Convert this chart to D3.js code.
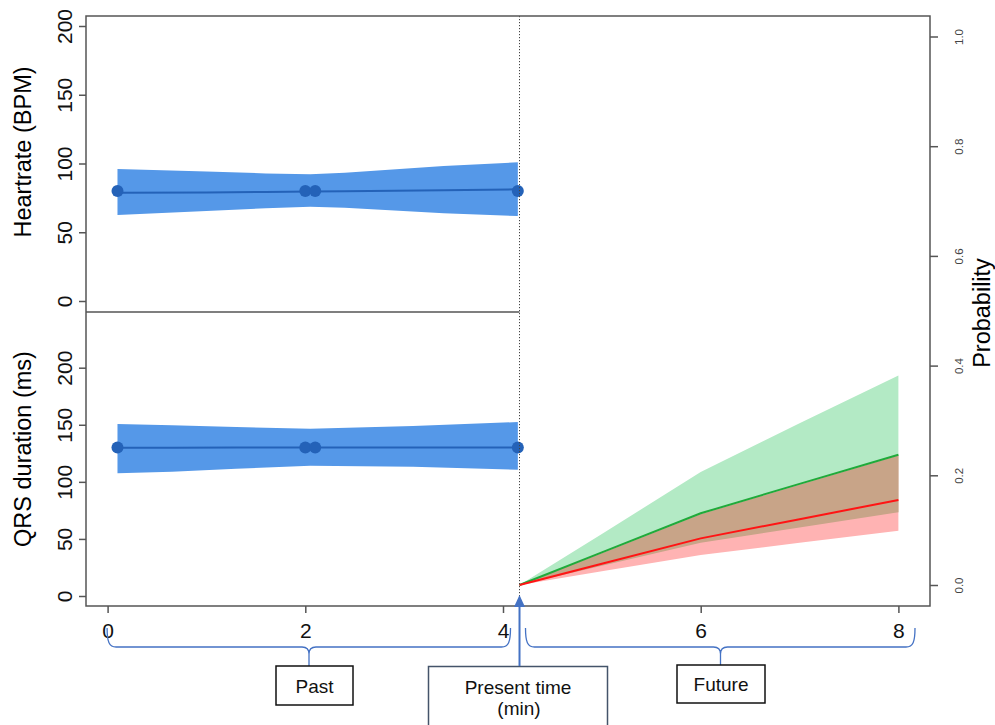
<!DOCTYPE html>
<html>
<head>
<meta charset="utf-8">
<script src="https://cdn.jsdelivr.net/npm/d3@7"></script>
<style>
  html, body { margin: 0; padding: 0; background: #fff; }
  svg { display: block; font-family: "Liberation Sans", Arial, sans-serif; }
</style>
</head>
<body>
<svg id="chart" width="995" height="725"></svg>
<script>
// ---------------- DATA ----------------
const obsTimes = [0.1, 2.0, 2.1, 4.15];
const hrObs = [80, 80, 80, 80];
const qrsObs = [130, 130, 130, 130];

const hrBandX = [0.1, 1.0, 1.6, 2.05, 2.4, 3.4, 4.15];
const hrUpper = [96.0, 94.2, 92.8, 92.1, 93.3, 98.2, 100.9];
const hrLower = [62.5, 65.5, 67.5, 68.6, 67.8, 63.9, 61.8];
const hrMean  = [78.8, 79.0, 79.3, 79.6, 79.8, 80.6, 81.2];

const qrsBandX = [0.1, 0.65, 1.3, 2.05, 3.09, 4.15];
const qrsUpper = [150.7, 149.5, 148.0, 146.5, 148.9, 152.4];
const qrsLower = [107.5, 108.9, 111.5, 114.1, 113.3, 110.6];
const qrsMean  = [129.8, 129.9, 130.0, 130.0, 130.1, 130.2];

const presentTime = 4.167;
const probX      = [4.167, 5, 6, 7, 8];
const greenUpper = [0, 0.093, 0.206, 0.295, 0.382];
const greenMean  = [0, 0.0596, 0.1307, 0.1844, 0.2376];
const greenLower = [0, 0.0352, 0.077, 0.105, 0.1325];
const redUpper   = [0, 0.058, 0.129, 0.183, 0.236];
const redMean    = [0, 0.0386, 0.085, 0.120, 0.155];
const redLower   = [0, 0.025, 0.0547, 0.077, 0.099];

const xTicks = [0, 2, 4, 6, 8];
const hrTicks = [0, 50, 100, 150, 200];
const qrsTicks = [0, 50, 100, 150, 200];
const probTicks = [0, 0.2, 0.4, 0.6, 0.8, 1.0];

const leftTitles = ["Heartrate (BPM)", "QRS duration (ms)"];
const rightTitle = "Probability";
const periodLabels = ["Past", "Future"];
const presentLabel = ["Present time", "(min)"];

// ---------------- LAYOUT ----------------
const svg = d3.select("#chart");
const box = {l: 86, t: 16, r: 930, b: 606, mid: 312};

const x = d3.scaleLinear().domain([0, 8]).range([107.6, 898.4]);
const yHR = d3.scaleLinear().domain([0, 200]).range([301, 26]);
const yQRS = d3.scaleLinear().domain([0, 200]).range([596, 367.7]);
const yP = d3.scaleLinear().domain([0, 1]).range([585, 36.5]);

const blueBand = "#5598e8", blueLine = "#2462b8";

// clip paths
const defs = svg.append("defs");
defs.append("clipPath").attr("id", "clipTop").append("rect")
  .attr("x", box.l).attr("y", box.t).attr("width", box.r - box.l).attr("height", box.mid - box.t);
defs.append("clipPath").attr("id", "clipBot").append("rect")
  .attr("x", box.l).attr("y", box.mid).attr("width", box.r - box.l).attr("height", box.b - box.mid);
defs.append("clipPath").attr("id", "clipAll").append("rect")
  .attr("x", box.l).attr("y", box.t).attr("width", box.r - box.l).attr("height", box.b - box.t);

// ---------- Heart rate panel ----------
const gTop = svg.append("g").attr("clip-path", "url(#clipTop)");
const hrData = hrBandX.map((t, i) => ({t, u: hrUpper[i], l: hrLower[i], m: hrMean[i]}));
gTop.append("path").datum(hrData)
  .attr("d", d3.area().x(d => x(d.t)).y0(d => yHR(d.l)).y1(d => yHR(d.u)))
  .attr("fill", blueBand);
gTop.append("path").datum(hrData)
  .attr("d", d3.line().x(d => x(d.t)).y(d => yHR(d.m)))
  .attr("fill", "none").attr("stroke", blueLine).attr("stroke-width", 2);
gTop.selectAll("circle").data(obsTimes.map((t, i) => ({t, v: hrObs[i]}))).join("circle")
  .attr("cx", d => x(d.t)).attr("cy", d => yHR(d.v)).attr("r", 6).attr("fill", blueLine);

// ---------- QRS panel ----------
const gBot = svg.append("g").attr("clip-path", "url(#clipBot)");
const qrsData = qrsBandX.map((t, i) => ({t, u: qrsUpper[i], l: qrsLower[i], m: qrsMean[i]}));
gBot.append("path").datum(qrsData)
  .attr("d", d3.area().x(d => x(d.t)).y0(d => yQRS(d.l)).y1(d => yQRS(d.u)))
  .attr("fill", blueBand);
gBot.append("path").datum(qrsData)
  .attr("d", d3.line().x(d => x(d.t)).y(d => yQRS(d.m)))
  .attr("fill", "none").attr("stroke", blueLine).attr("stroke-width", 2);
gBot.selectAll("circle").data(obsTimes.map((t, i) => ({t, v: qrsObs[i]}))).join("circle")
  .attr("cx", d => x(d.t)).attr("cy", d => yQRS(d.v)).attr("r", 6).attr("fill", blueLine);

// ---------- Probability forecast ----------
const gP = svg.append("g").attr("clip-path", "url(#clipAll)");
const pData = probX.map((t, i) => ({
  t, gu: greenUpper[i], gm: greenMean[i], gl: greenLower[i],
  ru: redUpper[i], rm: redMean[i], rl: redLower[i]
}));
gP.append("path").datum(pData)
  .attr("d", d3.area().x(d => x(d.t)).y0(d => yP(d.gl)).y1(d => yP(d.gu)))
  .attr("fill", "#b3eac5");
gP.append("path").datum(pData)
  .attr("d", d3.area().x(d => x(d.t)).y0(d => yP(d.rl)).y1(d => yP(d.ru)))
  .attr("fill", "#ffb3b3");
gP.append("path").datum(pData)
  .attr("d", d3.area().x(d => x(d.t))
    .y0(d => yP(Math.max(d.gl, d.rl))).y1(d => yP(Math.min(d.gu, d.ru))))
  .attr("fill", "#c8a488");
gP.append("path").datum(pData)
  .attr("d", d3.line().x(d => x(d.t)).y(d => yP(d.gm)))
  .attr("fill", "none").attr("stroke", "#1faa3a").attr("stroke-width", 2);
gP.append("path").datum(pData)
  .attr("d", d3.line().x(d => x(d.t)).y(d => yP(d.rm)))
  .attr("fill", "none").attr("stroke", "#ff1414").attr("stroke-width", 2);

// ---------- present-time dotted line ----------
svg.append("line")
  .attr("x1", x(presentTime)).attr("x2", x(presentTime))
  .attr("y1", box.t).attr("y2", box.b)
  .attr("stroke", "#444").attr("stroke-width", 1).attr("stroke-dasharray", "1.2,1.8");

// ---------- frame ----------
const frameColor = "#555";
svg.append("path")
  .attr("d", `M${box.l},${box.t} L${box.r},${box.t} L${box.r},${box.b} L${box.l},${box.b} Z`)
  .attr("fill", "none").attr("stroke", frameColor).attr("stroke-width", 1.5);
svg.append("line")
  .attr("x1", box.l).attr("x2", x(presentTime)).attr("y1", box.mid).attr("y2", box.mid)
  .attr("stroke", frameColor).attr("stroke-width", 1.5);

// ---------- axes ----------
function styleAxis(g, color) {
  g.select(".domain").remove();
  g.selectAll(".tick line").attr("stroke", color).attr("stroke-width", 1.5);
}

const axX = svg.append("g").attr("transform", `translate(0,${box.b})`)
  .call(d3.axisBottom(x).tickValues(xTicks).tickSize(7).tickFormat(d3.format("d")));
styleAxis(axX, frameColor);
axX.selectAll(".tick text").attr("y", 32).attr("dy", 0)
  .attr("font-size", 21).attr("fill", "#111").attr("font-family", "Liberation Sans, Arial, sans-serif");

function leftAxis(scale, ticks) {
  const g = svg.append("g").attr("transform", `translate(${box.l},0)`)
    .call(d3.axisLeft(scale).tickValues(ticks).tickSize(7).tickFormat(d3.format("d")));
  styleAxis(g, frameColor);
  g.selectAll(".tick text")
    .attr("transform", "rotate(-90)").attr("x", 0).attr("y", -14).attr("dy", 0)
    .attr("text-anchor", "middle").attr("font-size", 21).attr("fill", "#111")
    .attr("font-family", "Liberation Sans, Arial, sans-serif");
  return g;
}
leftAxis(yHR, hrTicks);
leftAxis(yQRS, qrsTicks);

const axR = svg.append("g").attr("transform", `translate(${box.r},0)`)
  .call(d3.axisRight(yP).tickValues(probTicks).tickSize(8).tickFormat(d3.format(".1f")));
styleAxis(axR, frameColor);
axR.selectAll(".tick text")
  .attr("transform", "rotate(-90)").attr("x", 0).attr("y", 33).attr("dy", 0)
  .attr("text-anchor", "middle").attr("font-size", 11.5).attr("fill", "#444")
  .attr("font-family", "Liberation Sans, Arial, sans-serif");

// ---------- axis titles ----------
const titleFont = 23.5;
svg.append("text").attr("transform", "translate(31,152) rotate(-90)")
  .attr("text-anchor", "middle").attr("font-size", titleFont).attr("fill", "#000")
  .text(leftTitles[0]);
svg.append("text").attr("transform", "translate(31,449) rotate(-90)")
  .attr("text-anchor", "middle").attr("font-size", titleFont).attr("fill", "#000")
  .text(leftTitles[1]);
svg.append("text").attr("transform", "translate(990,313) rotate(-90)")
  .attr("text-anchor", "middle").attr("font-size", titleFont).attr("fill", "#000")
  .text(rightTitle);

// ---------- braces & annotation boxes ----------
const braceColor = "#4472c4";
function brace(x0, x1, xm) {
  const yTop = 628, yLine = 647, yStem = 666;
  return `M${x0},${yTop} C${x0},${yLine - 5} ${x0 + 2},${yLine} ${x0 + 9},${yLine} ` +
         `L${xm - 7},${yLine} C${xm - 2},${yLine} ${xm},${yLine + 2} ${xm},${yLine + 7} L${xm},${yStem} ` +
         `M${x1},${yTop} C${x1},${yLine - 5} ${x1 - 2},${yLine} ${x1 - 9},${yLine} ` +
         `L${xm + 7},${yLine} C${xm + 2},${yLine} ${xm},${yLine + 2} ${xm},${yLine + 7}`;
}
svg.append("path").attr("d", brace(x(0) - 0.5, 510.5, 309))
  .attr("fill", "none").attr("stroke", braceColor).attr("stroke-width", 1.3);
svg.append("path").attr("d", brace(525.5, 915, 720.5))
  .attr("fill", "none").attr("stroke", braceColor).attr("stroke-width", 1.3);

function labelBox(x0, y0, w, h, color) {
  svg.append("rect").attr("x", x0).attr("y", y0).attr("width", w).attr("height", h)
    .attr("fill", "#fff").attr("stroke", color).attr("stroke-width", 1.5);
}
labelBox(276, 666, 77, 39, "#111");
svg.append("text").attr("x", 314.5).attr("y", 693).attr("text-anchor", "middle")
  .attr("font-size", 19).attr("fill", "#111").text(periodLabels[0]);

labelBox(677, 665, 88, 38, "#111");
svg.append("text").attr("x", 721).attr("y", 691).attr("text-anchor", "middle")
  .attr("font-size", 19).attr("fill", "#111").text(periodLabels[1]);

labelBox(428.5, 666.5, 179, 80, "#44546a");
svg.append("text").attr("x", 518).attr("y", 694).attr("text-anchor", "middle")
  .attr("font-size", 19).attr("fill", "#111").text(presentLabel[0]);
svg.append("text").attr("x", 519).attr("y", 715).attr("text-anchor", "middle")
  .attr("font-size", 19).attr("fill", "#111").text(presentLabel[1]);

// arrow to present time
const ax = x(presentTime);
svg.append("line").attr("x1", ax).attr("x2", ax).attr("y1", 666).attr("y2", 604)
  .attr("stroke", braceColor).attr("stroke-width", 2);
svg.append("path").attr("d", `M${ax},595 L${ax + 5.5},607 L${ax - 5.5},607 Z`)
  .attr("fill", braceColor);
</script>
</body>
</html>
